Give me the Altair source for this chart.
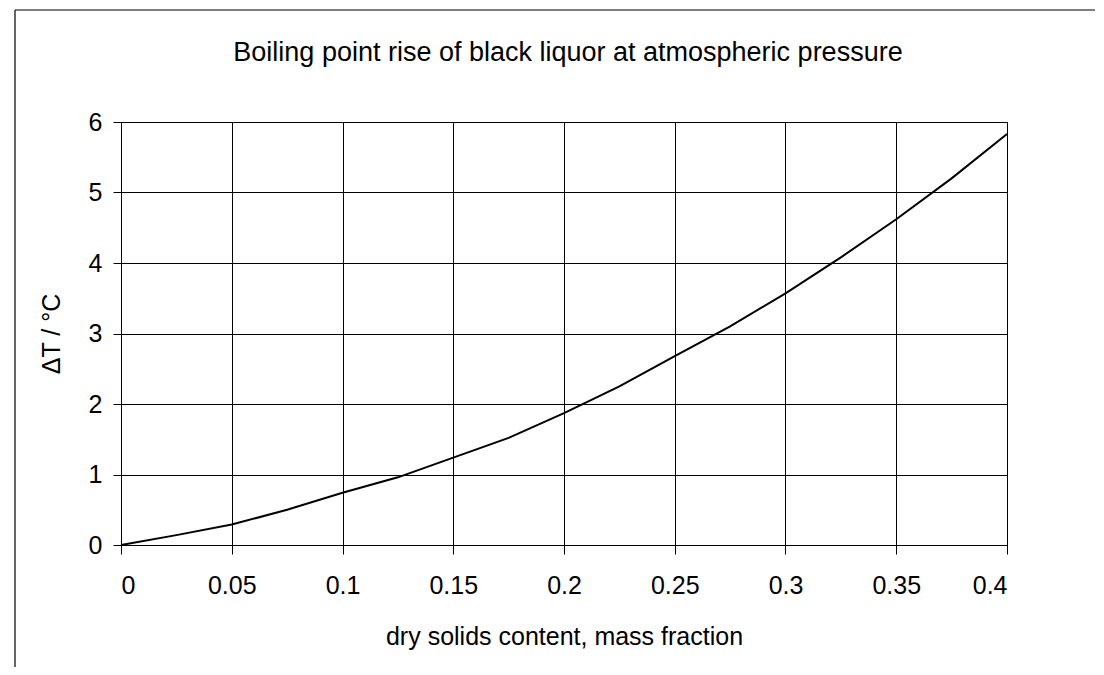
import altair as alt
import pandas as pd

# dry solids content (mass fraction) and boiling point rise (°C)
solids = [0.0, 0.025, 0.05, 0.075, 0.1, 0.125, 0.15, 0.175, 0.2,
          0.225, 0.25, 0.275, 0.3, 0.325, 0.35, 0.375, 0.4]
rise = [0.0, 0.14, 0.29, 0.50, 0.74, 0.96, 1.24, 1.52, 1.87,
        2.25, 2.68, 3.10, 3.57, 4.08, 4.62, 5.20, 5.83]

x_ticks = [0, 0.05, 0.1, 0.15, 0.2, 0.25, 0.3, 0.35, 0.4]
y_ticks = [0, 1, 2, 3, 4, 5, 6]

chart_title = "Boiling point rise of black liquor at atmospheric pressure"

df = pd.DataFrame({"x": solids, "y": rise})
title_df = pd.DataFrame({"t": [chart_title]})

FONT = "Liberation Sans"

line = alt.Chart(df).mark_line(color="black", strokeWidth=2, interpolate="linear").encode(
    x=alt.X(
        "x:Q",
        scale=alt.Scale(domain=[0, 0.4], nice=False, zero=False),
        axis=alt.Axis(
            values=x_ticks,
            title="dry solids content, mass fraction",
            format="~g",
            labelFontSize=25,
            titleFontSize=25,
            labelPadding=19,
            titlePadding=26,
            tickSize=9,
            grid=True,
        ),
    ),
    y=alt.Y(
        "y:Q",
        scale=alt.Scale(domain=[0, 6], nice=False),
        axis=alt.Axis(
            values=y_ticks,
            title="ΔT / °C",
            labelFontSize=25,
            titleFontSize=25,
            labelPadding=11,
            titlePadding=24,
            tickSize=8,
            grid=True,
        ),
    ),
)

# chart title, placed as a text mark above the plot area
title_mark = alt.Chart(title_df).mark_text(
    fontSize=27, font=FONT, color="black", align="center", baseline="middle"
).encode(text="t:N", x=alt.value(447), y=alt.value(-69))

# outer chart frame (left and top edges visible in the scan)
frame_left = alt.Chart(title_df).mark_rule(color="black", strokeWidth=1.2).encode(
    x=alt.value(-106), y=alt.value(-112), y2=alt.value(560)
)
frame_top = alt.Chart(title_df).mark_rule(color="black", strokeWidth=1.2).encode(
    x=alt.value(-106), x2=alt.value(1000), y=alt.value(-112)
)

chart = (
    alt.layer(frame_left, frame_top, line, title_mark)
    .properties(
        width=886,
        height=423,
        autosize=alt.AutoSizeParams(type="none"),
        padding={"left": 113, "top": 114, "right": 88, "bottom": 122},
    )
    .configure(font=FONT, background="white")
    .configure_axis(
        labelFont=FONT,
        titleFont=FONT,
        labelColor="black",
        titleColor="black",
        titleFontWeight="normal",
        domainColor="black",
        tickColor="black",
        gridColor="black",
        gridOpacity=1,
        gridWidth=1,
        domainWidth=1,
        tickWidth=1,
    )
    .configure_view(stroke="black", strokeWidth=1)
)

chart.save("out.html", embed_options={"renderer": "svg", "actions": False})
